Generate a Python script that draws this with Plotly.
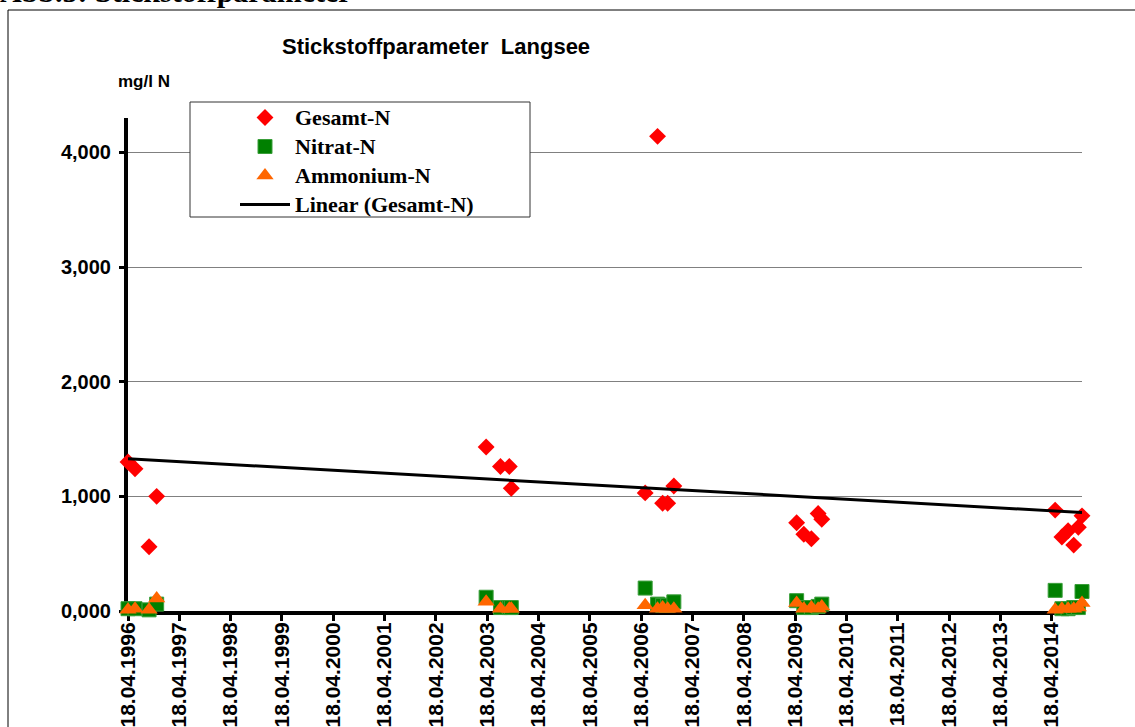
import numpy as np
import pandas as pd
import plotly.graph_objects as go

# ---------------- data ----------------
dates = [
    "1996-04-18", "1996-06-07", "1996-09-15", "1996-11-08",
    "2003-04-11", "2003-07-22", "2003-09-23", "2003-10-07",
    "2006-05-17", "2006-08-13", "2006-09-18", "2006-10-24", "2006-12-07",
    "2009-04-29", "2009-06-19", "2009-08-12", "2009-09-29", "2009-10-25",
    "2014-05-13", "2014-06-30", "2014-08-13", "2014-09-22", "2014-10-25", "2014-11-20",
]
gesamt_n = [
    1.30, 1.24, 0.56, 1.00,
    1.43, 1.26, 1.26, 1.07,
    1.03, 4.14, 0.94, 0.94, 1.09,
    0.77, 0.67, 0.63, 0.85, 0.80,
    0.88, 0.645, 0.70, 0.575, 0.73, 0.83,
]
nitrat_n = [
    0.02, 0.02, 0.01, 0.06,
    0.12, 0.03, 0.03, 0.03,
    0.20, 0.06, 0.05, 0.05, 0.08,
    0.09, 0.03, 0.03, 0.04, 0.06,
    0.18, 0.02, 0.02, 0.03, 0.03, 0.17,
]
ammonium_n = [
    0.01, 0.02, 0.01, 0.11,
    0.08, 0.02, 0.02, 0.02,
    0.05, 0.02, 0.03, 0.02, 0.02,
    0.07, 0.02, 0.03, 0.02, 0.04,
    0.01, 0.02, 0.02, 0.02, 0.03, 0.07,
]
tick_years = list(range(1996, 2015))
tick_dates = [f"{y}-04-18" for y in tick_years]
tick_labels = [f"18.04.{y}" for y in tick_years]
y_ticks = [0, 1, 2, 3, 4]

series_names = ["Gesamt-N", "Nitrat-N", "Ammonium-N", "Linear (Gesamt-N)"]
chart_title = "Stickstoffparameter  Langsee"
heading = "Abb.5: Stickstoffparameter"
y_unit = "mg/l N"

# ---------------- layout geometry (page pixels) ----------------
W, H = 1135, 727
L, R, T, B = 128, 1082, 118, 611   # plot area on the page
pw, ph = R - L, B - T


def px(x):
    return (x - L) / pw


def py(y):
    return (B - y) / ph


d = pd.to_datetime(dates)
# linear trend of Gesamt-N (as Excel's linear trendline on a date axis)
t_days = (d - d[0]).days.values.astype(float)
slope, icpt = np.polyfit(t_days, np.array(gesamt_n), 1)
trend_x = [d.min(), d.max()]
trend_t = np.array([(x - d[0]).days for x in trend_x], dtype=float)
trend_y = slope * trend_t + icpt


def leg(name):
    return f'<span style="font-size:22px">{name}</span>'


fig = go.Figure()
fig.add_trace(go.Scatter(
    x=d, y=gesamt_n, mode="markers", name=leg(series_names[0]),
    marker=dict(symbol="diamond", size=13, color="#FF0000", line=dict(width=0)),
    cliponaxis=False))
fig.add_trace(go.Scatter(
    x=d, y=nitrat_n, mode="markers", name=leg(series_names[1]),
    marker=dict(symbol="square", size=14, color="#008000", line=dict(width=1, color="#3A9E3A")),
    cliponaxis=False))
fig.add_trace(go.Scatter(
    x=d, y=ammonium_n, mode="markers", name=leg(series_names[2]),
    marker=dict(symbol="triangle-up", size=15, color="#FF6600", line=dict(width=0)),
    cliponaxis=False))
fig.add_trace(go.Scatter(
    x=trend_x, y=trend_y, mode="lines", name=leg(series_names[3]),
    line=dict(color="black", width=3), cliponaxis=False))

arial = "Arial, Liberation Sans, Helvetica, sans-serif"
times = "Times New Roman, Liberation Serif, serif"

fig.update_layout(
    width=W, height=H,
    margin=dict(l=L, r=W - R, t=T, b=H - B, autoexpand=False),
    paper_bgcolor="white", plot_bgcolor="white",
    separators=",.",
    showlegend=True,
    legend=dict(
        x=px(235), y=py(98), xanchor="left", yanchor="top",
        bgcolor="rgba(0,0,0,0)", borderwidth=0,
        font=dict(family=times, size=20, color="black", weight="bold"),
        itemwidth=50, tracegroupgap=0,
    ),
    xaxis=dict(
        type="date",
        range=[d.min(), d.max()],
        tickmode="array", tickvals=tick_dates, ticktext=tick_labels,
        tickangle=-90,
        tickfont=dict(family=arial, size=21, color="black", weight="bold"),
        ticks="outside", ticklen=6, tickwidth=3, tickcolor="black",
        ticklabelstandoff=-7,
        showline=True, linecolor="black", linewidth=4,
        showgrid=False, zeroline=False,
        layer="below traces",
    ),
    yaxis=dict(
        range=[0, 4.3],
        tickmode="array", tickvals=y_ticks, tickformat=".3f",
        tickfont=dict(family=arial, size=20, color="black", weight="bold"),
        ticks="outside", ticklen=5, tickwidth=3, tickcolor="black",
        ticklabelstandoff=4,
        showline=True, linecolor="black", linewidth=4,
        showgrid=True, gridcolor="#808080", gridwidth=1,
        zeroline=False,
        layer="below traces",
    ),
    shapes=[
        # outer frame of the figure
        dict(type="rect", xref="paper", yref="paper",
             x0=px(8), x1=px(W + 60), y0=py(H + 60), y1=py(10),
             line=dict(color="black", width=1), fillcolor="rgba(0,0,0,0)", layer="below"),
        # legend box
        dict(type="rect", xref="paper", yref="paper",
             x0=px(190), x1=px(530), y0=py(217), y1=py(102),
             line=dict(color="#333333", width=1), fillcolor="white", layer="above"),
    ],
    annotations=[
        dict(text=chart_title, xref="paper", yref="paper", x=px(436), y=py(47),
             xanchor="center", yanchor="middle", showarrow=False,
             font=dict(family=arial, size=22, color="black", weight="bold")),
        dict(text=y_unit, xref="paper", yref="paper", x=px(144), y=py(81),
             xanchor="center", yanchor="middle", showarrow=False,
             font=dict(family=arial, size=17, color="black", weight="bold")),
        dict(text=heading, xref="paper", yref="paper", x=px(-2), y=py(-9),
             xanchor="left", yanchor="middle", showarrow=False,
             font=dict(family=times, size=30, color="black", weight="bold")),
    ],
)

# the page's default 8px body margin would shift the whole figure
fig.write_html("out.html", config={"displayModeBar": False},
               post_script="document.body.style.margin='0px';")
